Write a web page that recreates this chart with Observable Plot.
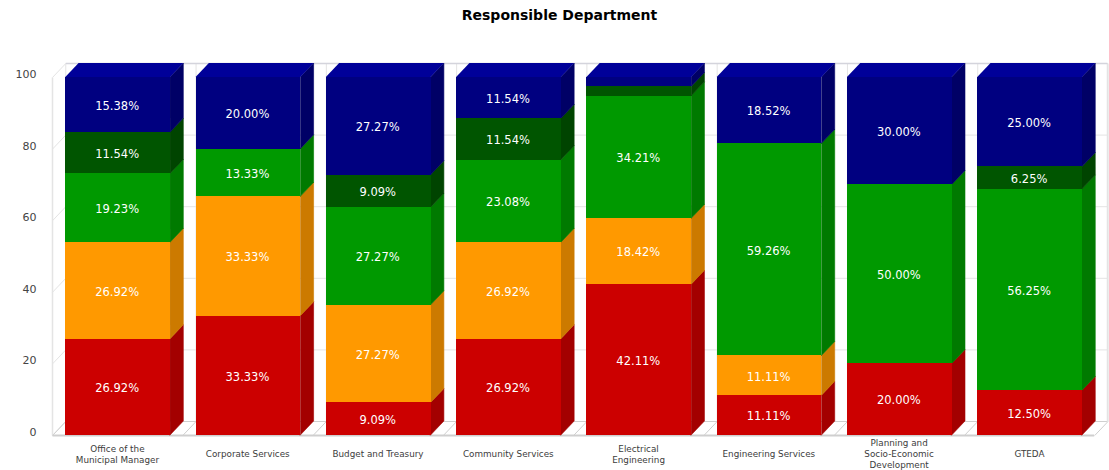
<!DOCTYPE html>
<html>
<head>
<meta charset="utf-8">
<script src="https://cdn.jsdelivr.net/npm/d3@7"></script>
<script src="https://cdn.jsdelivr.net/npm/@observablehq/plot@0.6"></script>
<style>
html,body{margin:0;padding:0;background:#fff}
#title{box-sizing:border-box;height:30px;padding-left:10px;text-align:center;font:bold 14px/30px "DejaVu Sans",sans-serif;color:#000;width:1109px}
svg{display:block}
</style>
</head>
<body>
<div id="title">Responsible Department</div>
<div id="chart"></div>
<script>
const categories = ["Office of the\nMunicipal Manager","Corporate Services","Budget and Treasury","Community Services","Electrical\nEngineering","Engineering Services","Planning and\nSocio-Economic\nDevelopment","GTEDA"];
const redValues      = [26.92,33.33, 9.09,26.92,42.11,11.11,20.00,12.50];
const orangeValues   = [26.92,33.33,27.27,26.92,18.42,11.11, 0,    0   ];
const greenValues    = [19.23,13.33,27.27,23.08,34.21,59.26,50.00,56.25];
const darkGreenValues= [11.54, 0,    9.09,11.54, 2.63, 0,    0,    6.25];
const blueValues     = [15.38,20.00,27.27,11.54, 2.63,18.52,30.00,25.00];
const hiddenLabelBelow = 3;
const yTicks = [0,20,40,60,80,100];

const palette = [
  {values:redValues,       front:"#cc0000", side:"#a30000"},
  {values:orangeValues,    front:"#ff9900", side:"#cc7a00"},
  {values:greenValues,     front:"#009900", side:"#007a00"},
  {values:darkGreenValues, front:"#005500", side:"#004400"},
  {values:blueValues,      front:"#000080", side:"#000066", top:"#000099"}
];

// Chart-space depth of the 3D projection
const dx = 0.102, dy = 3.91, half = 0.402;
const xMin = -0.504, xMax = 7.594;
const xBack = xMin + dx;
const xFront = xMax - dx;
const wall = "#e4e4e4", floorC = "#cfcfcf";

const segs = [];
categories.forEach((c,i)=>{
  let base = 0;
  palette.forEach((s,k)=>{
    const v = s.values[i];
    if (v > 0) segs.push({i,k,y0:base,y1:base+v,v,front:s.front,side:s.side,top:s.top});
    base += v;
  });
});

function sidePts(d){ const r=d.i+half; return [
  {id:d.i+"-"+d.k,xa:r,ya:d.y0,xb:r,yb:d.y1},
  {id:d.i+"-"+d.k,xa:r+dx,ya:d.y0+dy,xb:r+dx,yb:d.y1+dy}
];}
function topPts(d){ return [
  {id:d.i,xa:d.i-half,xb:d.i+half,ya:d.y1,yb:d.y1},
  {id:d.i,xa:d.i-half+dx,xb:d.i+half+dx,ya:d.y1+dy,yb:d.y1+dy}
];}

const marks = [];
// walls
const grid = [];
yTicks.forEach(v=>{
  grid.push({a:xBack,b:xMax,c:v+dy,d:v+dy});
  grid.push({a:xMin,b:xBack,c:v,d:v+dy});
});
marks.push(Plot.link(grid.filter(g=>g.c!==dy),{x1:"a",x2:"b",y1:"c",y2:"d",stroke:wall,strokeWidth:1}));
const verticals = d3.range(0,9).map(n=>({x:xBack+n}));
marks.push(Plot.link(verticals,{x1:"x",x2:"x",y1:dy,y2:100+dy,stroke:wall,strokeWidth:1}));
marks.push(Plot.link(d3.range(0,9),{x1:n=>xMin+n,x2:n=>xBack+n,y1:0,y2:dy,stroke:floorC,strokeWidth:1}));
marks.push(Plot.link([0],{x1:xMin,x2:xMin,y1:0,y2:100,stroke:wall,strokeWidth:1.5}));
marks.push(Plot.link([0],{x1:xBack,x2:xMax,y1:dy,y2:dy,stroke:floorC,strokeWidth:1}));
marks.push(Plot.link([0],{x1:xMin,x2:xFront,y1:0,y2:0,stroke:floorC,strokeWidth:2}));
marks.push(Plot.link([0],{x1:xMax,x2:xMax,y1:dy,y2:100+dy,stroke:wall,strokeWidth:1.5}));
marks.push(Plot.link([0],{x1:xBack,x2:xMax,y1:100+dy,y2:100+dy,stroke:"#d4d4dc",strokeWidth:1.5}));

// sides
palette.forEach((s,k)=>{
  const pts = segs.filter(d=>d.k===k).flatMap(sidePts);
  marks.push(Plot.area(pts,{x1:"xa",y1:"ya",x2:"xb",y2:"yb",z:"id",fill:s.side,stroke:s.side,strokeWidth:0.6}));
});
// top face
const tops = categories.map((c,i)=>segs.filter(d=>d.i===i).at(-1));
marks.push(Plot.area(tops.flatMap(topPts),{x1:"xa",y1:"ya",x2:"xb",y2:"yb",z:"id",fill:palette[4].top}));
// fronts
marks.push(Plot.rect(segs,{x1:d=>d.i-half,x2:d=>d.i+half,y1:"y0",y2:"y1",fill:d=>d.front,shapeRendering:"crispEdges"}));
// value labels
marks.push(Plot.text(segs.filter(d=>d.v>hiddenLabelBelow),{x:d=>d.i,y:d=>(d.y0+d.y1)/2,text:d=>d.v.toFixed(2)+"%",fill:"#fff",fontSize:11.5,dx:-1,dy:1}));
// category labels
marks.push(Plot.text(categories,{x:(d,i)=>i,y:0,text:d=>d,dy:18,dx:-0.7,lineAnchor:"middle",lineHeight:1.25,fontSize:8.8,fill:"#3c3c3c",fontFamily:"'DejaVu Sans',sans-serif"}));
// value axis
marks.push(Plot.axisY({ticks:yTicks,tickSize:0,tickPadding:16,dy:-3,label:null,fontSize:11,fill:"#444",anchor:"left"}));

const chart = Plot.plot({
  width:1109,height:440,
  marginTop:33,marginBottom:35,marginLeft:52,marginRight:2,
  style:{fontFamily:"'DejaVu Sans',sans-serif",background:"#fff",overflow:"visible"},
  x:{domain:[xMin,xMax],axis:null},
  y:{domain:[0,100+dy]},
  color:{type:"identity"},
  marks
});
document.getElementById("chart").appendChild(chart);
</script>
</body>
</html>
